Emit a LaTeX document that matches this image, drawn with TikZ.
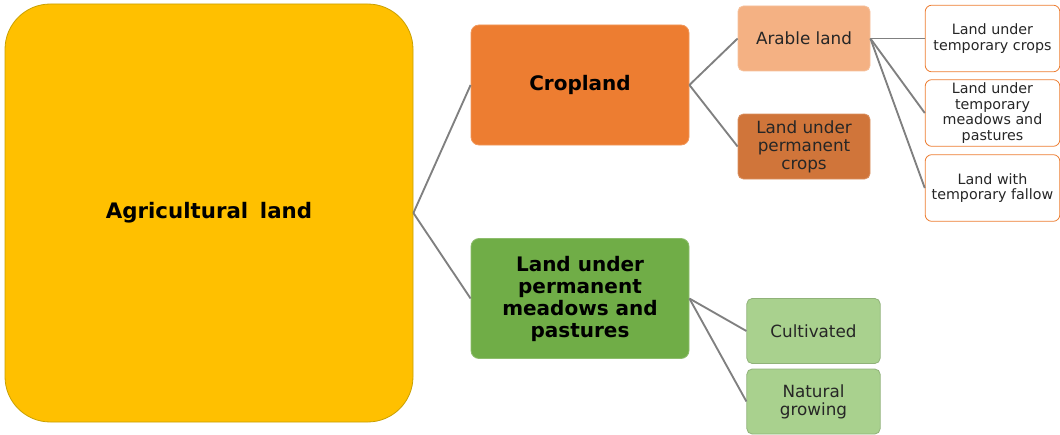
\documentclass[tikz,border=0pt]{standalone}
\usepackage{fontspec}
\setmainfont{DejaVu Sans}
\usepackage{xcolor}
\definecolor{agyellow}{HTML}{FFC000}
\definecolor{agborder}{HTML}{C9A000}
\definecolor{croporange}{HTML}{ED7D31}
\definecolor{arablepeach}{HTML}{F4B183}
\definecolor{permbrown}{HTML}{D0753A}
\definecolor{meadgreen}{HTML}{70AD47}
\definecolor{lightgreen}{HTML}{A9D18E}
\definecolor{linkgray}{HTML}{808080}
\usepackage{tikz}

\begin{document}
\begin{tikzpicture}[x=0.75pt,y=-0.75pt,
  box/.style={rounded corners=6pt,align=center,inner sep=1pt,line width=0.6pt},
  big/.style={font=\fontsize{15}{16.5}\selectfont\bfseries,text=black},
  mid/.style={font=\fontsize{12.6}{13.5}\selectfont,text=black!85,minimum width=99pt,minimum height=48.75pt,rounded corners=4pt},
  small/.style={font=\fontsize{10.7}{11.6}\selectfont,text=black!85,minimum width=101pt,minimum height=50pt,rounded corners=5pt,fill=white,draw=croporange},
  link/.style={draw=linkgray,line width=1.4pt}]
\useasboundingbox (0,0) rectangle (1060,435);
% ---- level 0 ----
\node[box,big,font=\fontsize{16}{18}\selectfont\bfseries,fill=agyellow,draw=agborder,minimum width=306pt,minimum height=313.5pt,rounded corners=34pt] (agri) at (209,213) {Agricultural\hspace{0.55em}land};
% ---- level 1 ----
\node[box,big,fill=croporange,draw=croporange!80!white,minimum width=163.5pt,minimum height=90pt] (crop) at (580,85) {Cropland};
\node[box,big,fill=meadgreen,draw=meadgreen!80!white,minimum width=163.5pt,minimum height=90pt] (meadow) at (580,298.5) {Land under\\permanent\\meadows and\\pastures};
% ---- level 2 ----
\node[box,mid,fill=arablepeach,draw=arablepeach!80!white] (arable) at (804,38.5) {Arable land};
\node[box,mid,fill=permbrown,draw=permbrown!80!white] (perm) at (804,146.5) {Land under\\permanent\\crops};
\node[box,mid,fill=lightgreen,draw=lightgreen!85!black,minimum width=100pt] (cultiv) at (813.5,331) {Cultivated};
\node[box,mid,fill=lightgreen,draw=lightgreen!85!black,minimum width=100pt] (natural) at (813.5,401.5) {Natural\\growing};
% ---- level 3 ----
\node[box,small] (tempcrop) at (992.5,38.5) {Land under\\temporary crops};
\node[box,small] (tempmead) at (992.5,113) {Land under\\temporary\\meadows and\\pastures};
\node[box,small] (fallow) at (992.5,188) {Land with\\temporary fallow};
% ---- links ----
\foreach \a/\b in {agri/crop,agri/meadow,crop/arable,crop/perm,arable/tempcrop,arable/tempmead,arable/fallow,meadow/cultiv,meadow/natural}
  \draw[link] (\a.east) -- (\b.west);
\end{tikzpicture}
\end{document}
